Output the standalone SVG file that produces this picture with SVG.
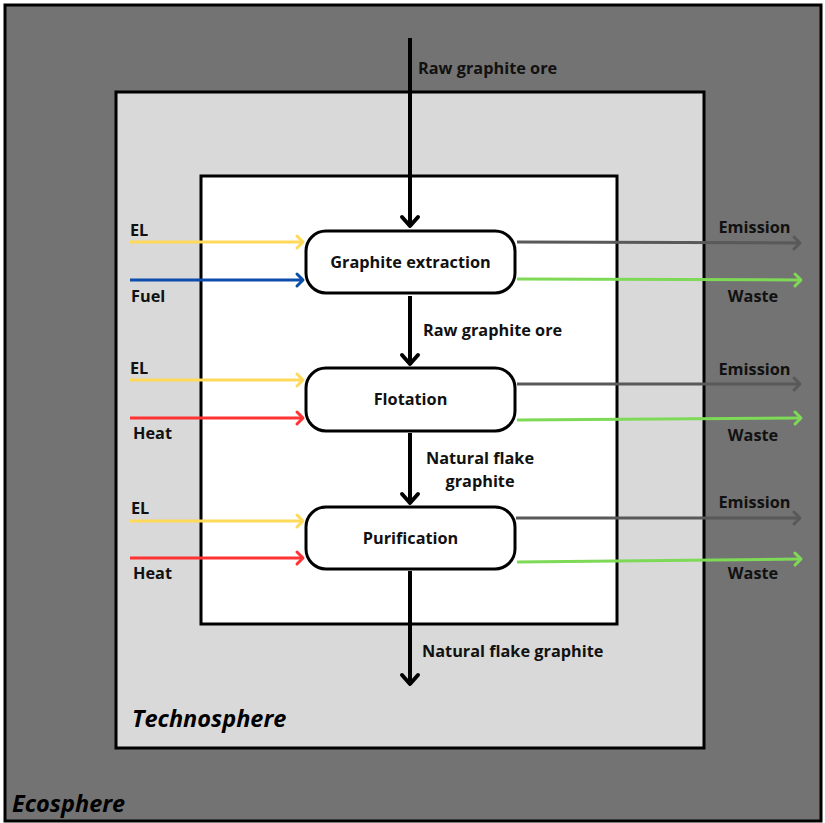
<svg xmlns="http://www.w3.org/2000/svg" width="825" height="823" viewBox="0 0 825 823">
  <style>
    .lbl { font-family: "Open Sans", "Liberation Sans", sans-serif; font-weight: 700; font-size: 16.3px; fill: #111; }
    .sphere { font-family: "Open Sans", "Liberation Sans", sans-serif; font-weight: 700; font-style: italic; font-size: 23.5px; fill: #000; }
    .node rect { fill: #fff; stroke: #000; stroke-width: 3; }
    .flow { fill: none; }
    .main { stroke: #000; stroke-width: 4; }
    .el { stroke: #ffd95a; stroke-width: 3; }
    .fuel { stroke: #0b4dab; stroke-width: 3; }
    .heat { stroke: #ff3333; stroke-width: 3; }
    .emis { stroke: #595959; stroke-width: 3; }
    .waste { stroke: #7ed957; stroke-width: 3; }
  </style>
  <defs>
    <marker id="ahMain" markerUnits="userSpaceOnUse" viewBox="-12 -12 24 24" markerWidth="24" markerHeight="24" refX="0" refY="0" orient="auto">
      <polyline points="-9,-8 0,0 -9,8" fill="none" stroke="#000" stroke-width="4" stroke-linecap="round" stroke-linejoin="round"/>
    </marker>
    <marker id="ahEl" markerUnits="userSpaceOnUse" viewBox="-10 -10 20 20" markerWidth="20" markerHeight="20" refX="0" refY="0" orient="auto">
      <polyline points="-6,-6 0,0 -6,6" fill="none" stroke="#ffd95a" stroke-width="3" stroke-linecap="round" stroke-linejoin="round"/>
    </marker>
    <marker id="ahFuel" markerUnits="userSpaceOnUse" viewBox="-10 -10 20 20" markerWidth="20" markerHeight="20" refX="0" refY="0" orient="auto">
      <polyline points="-6,-6 0,0 -6,6" fill="none" stroke="#0b4dab" stroke-width="3" stroke-linecap="round" stroke-linejoin="round"/>
    </marker>
    <marker id="ahHeat" markerUnits="userSpaceOnUse" viewBox="-10 -10 20 20" markerWidth="20" markerHeight="20" refX="0" refY="0" orient="auto">
      <polyline points="-6,-6 0,0 -6,6" fill="none" stroke="#ff3333" stroke-width="3" stroke-linecap="round" stroke-linejoin="round"/>
    </marker>
    <marker id="ahEmis" markerUnits="userSpaceOnUse" viewBox="-10 -10 20 20" markerWidth="20" markerHeight="20" refX="0" refY="0" orient="auto">
      <polyline points="-6,-6 0,0 -6,6" fill="none" stroke="#595959" stroke-width="3" stroke-linecap="round" stroke-linejoin="round"/>
    </marker>
    <marker id="ahWaste" markerUnits="userSpaceOnUse" viewBox="-10 -10 20 20" markerWidth="20" markerHeight="20" refX="0" refY="0" orient="auto">
      <polyline points="-6,-6 0,0 -6,6" fill="none" stroke="#7ed957" stroke-width="3" stroke-linecap="round" stroke-linejoin="round"/>
    </marker>
  </defs>

  <rect width="825" height="823" fill="#fff"/>

  <!-- system boundaries -->
  <g id="ecosphere">
    <rect x="5" y="5" width="816" height="816" fill="#737373" stroke="#000" stroke-width="3"/>
    <text class="sphere" x="12" y="812">Ecosphere</text>
  </g>
  <g id="technosphere">
    <rect x="116" y="92" width="588" height="656" fill="#d9d9d9" stroke="#000" stroke-width="3"/>
    <text class="sphere" x="132" y="727">Technosphere</text>
  </g>
  <g id="foreground">
    <rect x="201" y="176" width="416" height="448" fill="#fff" stroke="#000" stroke-width="3"/>
  </g>

  <!-- flows -->
  <g id="connectors" class="flow">
    <line class="main" x1="410" y1="38" x2="410" y2="226" marker-end="url(#ahMain)"/>
    <line class="main" x1="410" y1="296" x2="410" y2="364" marker-end="url(#ahMain)"/>
    <line class="main" x1="410" y1="433" x2="410" y2="503" marker-end="url(#ahMain)"/>
    <line class="main" x1="410" y1="571" x2="410" y2="684" marker-end="url(#ahMain)"/>

    <line class="el" x1="130" y1="242" x2="303" y2="242" marker-end="url(#ahEl)"/>
    <line class="fuel" x1="130" y1="280" x2="303" y2="280" marker-end="url(#ahFuel)"/>
    <line class="el" x1="130" y1="380" x2="303" y2="380" marker-end="url(#ahEl)"/>
    <line class="heat" x1="130" y1="418" x2="303" y2="418" marker-end="url(#ahHeat)"/>
    <line class="el" x1="130" y1="521" x2="303" y2="521" marker-end="url(#ahEl)"/>
    <line class="heat" x1="130" y1="558" x2="303" y2="558" marker-end="url(#ahHeat)"/>

    <line class="emis" x1="517" y1="242" x2="800" y2="243" marker-end="url(#ahEmis)"/>
    <line class="waste" x1="517" y1="279" x2="801" y2="280" marker-end="url(#ahWaste)"/>
    <line class="emis" x1="517" y1="384" x2="800" y2="384" marker-end="url(#ahEmis)"/>
    <line class="waste" x1="517" y1="420" x2="801" y2="418" marker-end="url(#ahWaste)"/>
    <line class="emis" x1="516" y1="518" x2="800" y2="518" marker-end="url(#ahEmis)"/>
    <line class="waste" x1="517" y1="562" x2="801" y2="559" marker-end="url(#ahWaste)"/>
  </g>

  <!-- flow labels -->
  <g id="flow-labels">
    <text class="lbl" x="418" y="74">Raw graphite ore</text>
    <text class="lbl" x="423" y="336">Raw graphite ore</text>
    <text class="lbl" x="480" y="464" text-anchor="middle">Natural flake</text>
    <text class="lbl" x="480" y="487" text-anchor="middle">graphite</text>
    <text class="lbl" x="422" y="657">Natural flake graphite</text>

    <text class="lbl" x="130" y="236">EL</text>
    <text class="lbl" x="131" y="302">Fuel</text>
    <text class="lbl" x="130" y="374">EL</text>
    <text class="lbl" x="133" y="439">Heat</text>
    <text class="lbl" x="131" y="514">EL</text>
    <text class="lbl" x="133" y="579">Heat</text>

    <text class="lbl" x="754.5" y="233" text-anchor="middle">Emission</text>
    <text class="lbl" x="753" y="302" text-anchor="middle">Waste</text>
    <text class="lbl" x="754.5" y="375" text-anchor="middle">Emission</text>
    <text class="lbl" x="753" y="441" text-anchor="middle">Waste</text>
    <text class="lbl" x="754.5" y="508" text-anchor="middle">Emission</text>
    <text class="lbl" x="753" y="579" text-anchor="middle">Waste</text>
  </g>

  <!-- process nodes -->
  <g id="graphite-extraction" class="node">
    <rect x="306" y="231" width="209" height="62" rx="20" ry="20"/>
    <text class="lbl" x="410.5" y="268" text-anchor="middle">Graphite extraction</text>
  </g>
  <g id="flotation" class="node">
    <rect x="306" y="368" width="209" height="63" rx="20" ry="20"/>
    <text class="lbl" x="410.5" y="405" text-anchor="middle">Flotation</text>
  </g>
  <g id="purification" class="node">
    <rect x="306" y="507" width="209" height="62" rx="20" ry="20"/>
    <text class="lbl" x="410.5" y="544" text-anchor="middle">Purification</text>
  </g>
</svg>
